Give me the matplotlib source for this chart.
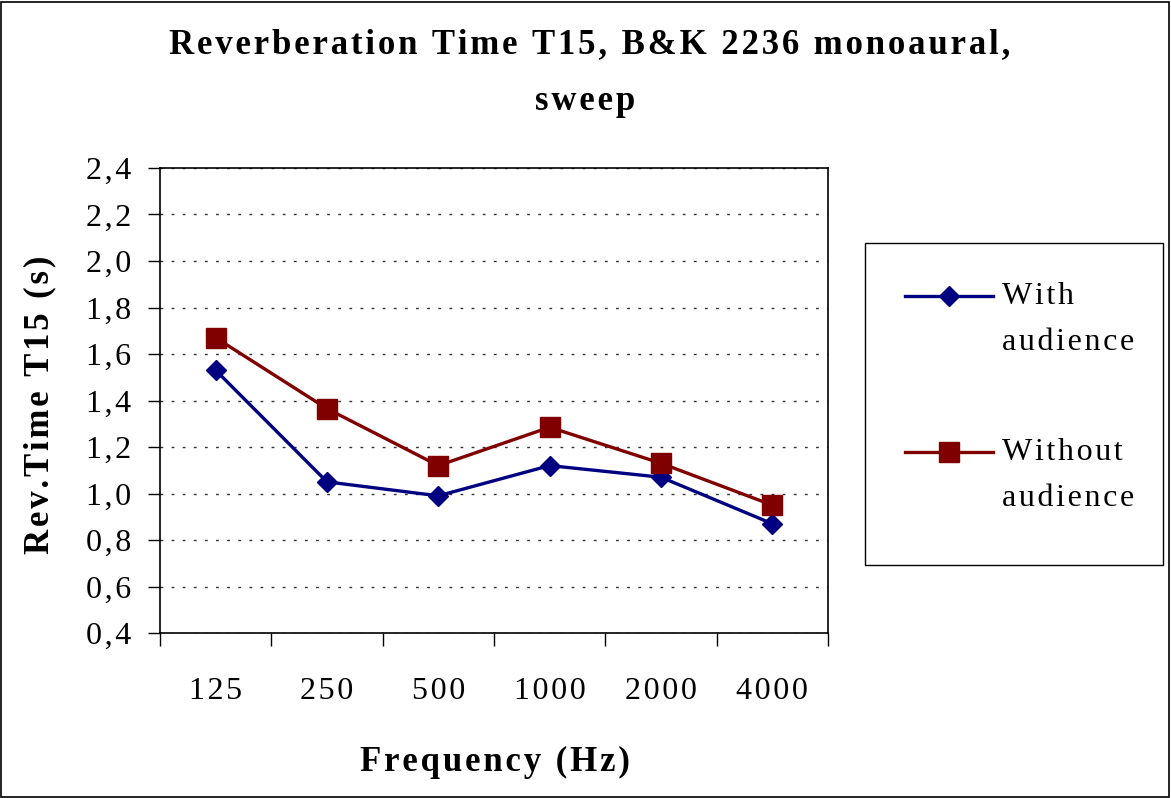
import matplotlib
matplotlib.use("Agg")
import matplotlib.pyplot as plt
from matplotlib.patches import Rectangle
from matplotlib.lines import Line2D

categories = ["125", "250", "500", "1000", "2000", "4000"]
with_audience = [1.53, 1.05, 0.99, 1.12, 1.07, 0.87]
without_audience = [1.67, 1.365, 1.12, 1.285, 1.13, 0.95]
yticks = [0.4, 0.6, 0.8, 1.0, 1.2, 1.4, 1.6, 1.8, 2.0, 2.2, 2.4]
ytick_labels = ["0,4", "0,6", "0,8", "1,0", "1,2", "1,4", "1,6", "1,8", "2,0", "2,2", "2,4"]
series_labels = [["With", "audience"], ["Without", "audience"]]
series_colors = ["#000080", "#800000"]

plt.rcParams['font.family'] = ['Liberation Serif', 'DejaVu Serif']

HS = "\u200a"


def track(s):
    return HS.join(list(s))


W, H = 1171, 798
fig = plt.figure(figsize=(W / 100, H / 100), dpi=100)
fig.patch.set_facecolor('white')
fig.add_artist(Rectangle((0.001, 0.001), 0.997, 0.997, transform=fig.transFigure,
                         fill=False, edgecolor='black', linewidth=1.2))

ax = fig.add_axes([160 / W, 1 - 633 / H, (828 - 160) / W, (633 - 168) / H])
x = list(range(len(categories)))
ax.plot(x, with_audience, color=series_colors[0], linewidth=2.4, marker='D', markersize=10,
        markerfacecolor=series_colors[0], markeredgecolor=series_colors[0], zorder=3)
ax.plot(x, without_audience, color=series_colors[1], linewidth=2.4, marker='s', markersize=15,
        markerfacecolor=series_colors[1], markeredgecolor=series_colors[1], zorder=3)

ax.set_xlim(-0.5, len(categories) - 0.5)
ax.set_ylim(0.4, 2.4)
ax.set_yticks(yticks)
ax.set_yticklabels([track(t) for t in ytick_labels], fontsize=23)
ax.set_xticks(x)
ax.set_xticklabels([track(c) for c in categories], fontsize=23)
ax.tick_params(axis='x', which='major', length=0, pad=32)
ax.set_xticks([i - 0.5 for i in range(len(categories) + 1)], minor=True)
ax.tick_params(axis='x', which='minor', length=9, width=1, color='black')
ax.tick_params(axis='y', length=9, width=1, pad=12)
ax.yaxis.grid(True, linestyle=(0, (2, 6)), color='#333333', linewidth=1.0)
ax.set_axisbelow(True)
for s in ax.spines.values():
    s.set_linewidth(1.2)
    s.set_color('black')

fig.text(495 / W, 1 - 762 / H, track("Frequency (Hz)"), ha='center', va='center',
         fontsize=25, fontweight='bold')
fig.text(40 / W, 1 - 405 / H, track("Rev.Time T15 (s)"), ha='center', va='center',
         fontsize=25, fontweight='bold', rotation=90)

fig.text(590 / W, 1 - 45 / H, track("Reverberation Time T15, B&K 2236 monoaural,"),
         ha='center', va='center', fontsize=25, fontweight='bold')
fig.text(585 / W, 1 - 102 / H, track("sweep"), ha='center', va='center',
         fontsize=25, fontweight='bold')

# legend box
fig.add_artist(Rectangle((865 / W, 1 - 565 / H), (1163 - 865) / W, (565 - 243) / H,
                         transform=fig.transFigure, fill=False, edgecolor='black', linewidth=1.0))
legend_y = [296, 452]
markers = ['D', 's']
msizes = [10, 15]
for i in range(2):
    yy = 1 - legend_y[i] / H
    fig.add_artist(Line2D([905 / W, 993 / W], [yy, yy], transform=fig.transFigure,
                          color=series_colors[i], linewidth=2.4))
    fig.add_artist(Line2D([949 / W], [yy], transform=fig.transFigure, marker=markers[i],
                          markersize=msizes[i], color=series_colors[i], linestyle='none'))
    fig.text(1002 / W, yy, track(series_labels[i][0]), ha='left', va='center', fontsize=23)
    fig.text(1002 / W, yy - 46 / H, track(series_labels[i][1]), ha='left', va='center', fontsize=23)

fig.savefig("out.png", dpi=100)
